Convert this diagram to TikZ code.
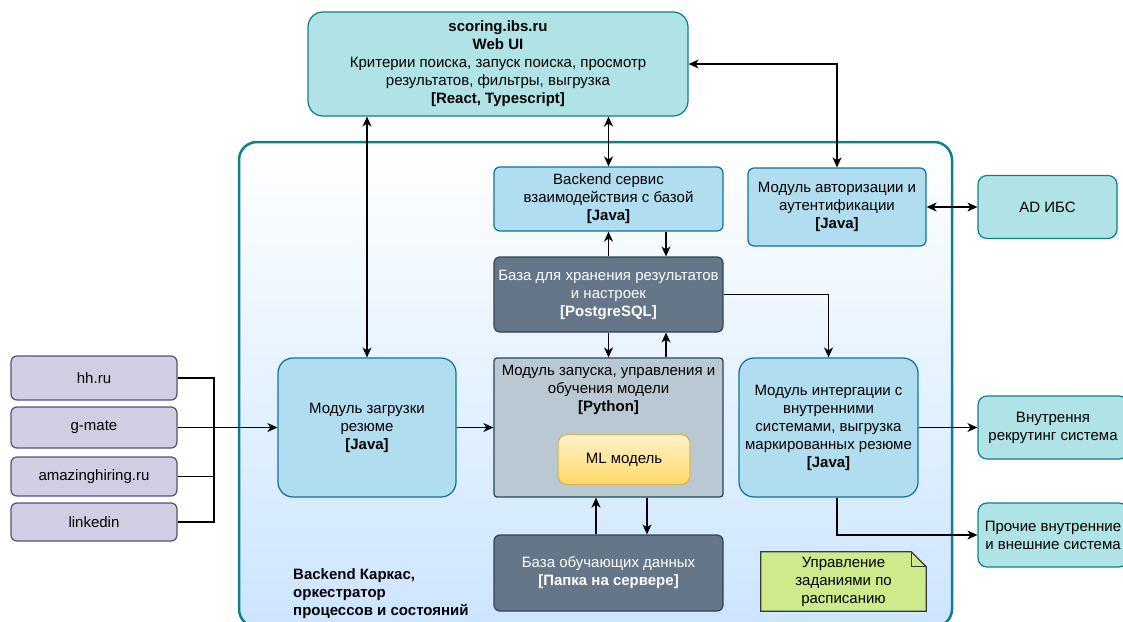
\documentclass[tikz,border=0pt]{standalone}
\usepackage{fontspec}
\setmainfont{Liberation Sans}
\usetikzlibrary{arrows.meta,positioning}
\definecolor{tealfill}{HTML}{B0E3E6}
\definecolor{tealline}{HTML}{0E8088}
\definecolor{bluefill}{HTML}{B1DDF0}
\definecolor{blueline}{HTML}{10739E}
\definecolor{darkfill}{HTML}{647687}
\definecolor{darkline}{HTML}{314354}
\definecolor{pyfill}{HTML}{BAC8D3}
\definecolor{pyline}{HTML}{23445D}
\definecolor{mltop}{HTML}{FFF2CC}
\definecolor{mlbottom}{HTML}{FFD966}
\definecolor{mlline}{HTML}{D6B656}
\definecolor{srcfill}{HTML}{D0CEE2}
\definecolor{srcline}{HTML}{56517E}
\definecolor{notefill}{HTML}{CDEB8B}
\definecolor{noteline}{HTML}{36393D}
\definecolor{corebottom}{HTML}{CCE5FF}
\tikzset{
  box/.style={draw, rounded corners=6pt, line width=1.25pt, align=center, inner sep=0pt},
  webbox/.style={box, fill=tealfill, draw=tealline, rounded corners=15pt},
  extbox/.style={box, fill=tealfill, draw=tealline, rounded corners=9pt},
  modbox/.style={box, fill=bluefill, draw=blueline},
  bigmod/.style={box, fill=bluefill, draw=blueline, rounded corners=15pt},
  dbbox/.style={box, fill=darkfill, draw=darkline, text=white},
  srcbox/.style={box, fill=srcfill, draw=srcline, minimum width=166pt},
  link/.style={line width=1.1pt, -{Stealth[length=10pt,width=9pt,inset=3pt]}},
  duplex/.style={line width=1.1pt, {Stealth[length=10pt,width=9pt,inset=3pt]}-{Stealth[length=10pt,width=9pt,inset=3pt]}},
  wire/.style={line width=1.1pt}
}
\begin{document}
\begin{tikzpicture}[x=1pt, y=-1pt, font=\fontsize{15}{18}\selectfont]
\useasboundingbox (0,0) rectangle (1123,621);
\node[draw=tealline, line width=2.5pt, rounded corners=18pt, top color=white, bottom color=corebottom,
  minimum width=713pt, minimum height=485pt, inner sep=0pt] (core) at (595.5,384.5) {};
\node[anchor=north west, align=left, font=\fontsize{15}{18}\selectfont\bfseries, inner sep=0pt] (corelabel) at (293,568)
  {Backend Каркас,\\оркестратор\\процессов и состояний};

\node[webbox, minimum width=380pt, minimum height=104pt] (webui) at (498,64)
  {\textbf{scoring.ibs.ru}\\\textbf{Web UI}\\Критерии поиска, запуск поиска, просмотр\\результатов, фильтры, выгрузка\\\textbf{[React, Typescript]}};
\node[modbox, minimum width=229pt, minimum height=64pt] (dbsvc) at (608.5,199)
  {Backend сервис\\взаимодействия с базой\\\textbf{[Java]}};
\node[modbox, minimum width=178pt, minimum height=78pt] (auth) at (837,207)
  {Модуль авторизации и\\аутентификации\\\textbf{[Java]}};
\node[extbox, minimum width=139pt, minimum height=63pt] (adibs) at (1047.5,207) {AD ИБС};
\node[dbbox, minimum width=229pt, minimum height=75pt] (pg) at (608.5,294.5)
  {База для хранения результатов\\и настроек\\\textbf{[PostgreSQL]}};
\node[bigmod, minimum width=178pt, minimum height=139pt] (loader) at (367,427.5)
  {Модуль загрузки\\резюме\\\textbf{[Java]}};
\node[box, fill=pyfill, draw=pyline, rounded corners=3pt, minimum width=229pt, minimum height=139pt] (pymod) at (608.5,427.5) {};
\node[below=8pt of pymod.north, align=center, inner sep=0pt] (pymodtxt)
  {Модуль запуска, управления и\\обучения модели\\\textbf{[Python]}};
\node[box, top color=mltop, bottom color=mlbottom, draw=mlline, rounded corners=9pt, minimum width=132pt, minimum height=50pt] (ml) at (624,459.5) {ML модель};
\node[bigmod, minimum width=179pt, minimum height=139pt] (integ) at (828.5,427.5)
  {Модуль интергации с\\внутренними\\системами, выгрузка\\маркированных резюме\\\textbf{[Java]}};
\node[dbbox, minimum width=229pt, minimum height=76pt] (train) at (608.5,573)
  {База обучающих данных\\\textbf{[Папка на сервере]}};
\node[inner sep=0pt, minimum width=165pt, minimum height=59pt] (note) at (843.5,581.5) {};
\draw[noteline, fill=notefill, line width=1.25pt] (note.north west) -- ([xshift=-15pt]note.north east) -- ([yshift=-15pt]note.north east) -- (note.south east) -- (note.south west) -- cycle;
\draw[noteline, line width=1.25pt] ([xshift=-15pt]note.north east) -- ([xshift=-15pt,yshift=-15pt]note.north east) -- ([yshift=-15pt]note.north east);
\node[align=center, inner sep=0pt] (notetxt) at (note) {Управление\\заданиями по\\расписанию};
\node[extbox, minimum width=150pt, minimum height=63pt] (recruit) at (1053,427.5)
  {Внутрення\\рекрутинг система};
\node[extbox, minimum width=150pt, minimum height=64pt] (other) at (1053,535)
  {Прочие внутренние\\и внешние система};

\node[srcbox, minimum height=44pt] (hh) at (94,378) {hh.ru};
\node[srcbox, minimum height=41pt] (gmate) at (94,427.5) {g-mate};
\node[srcbox, minimum height=39pt] (amazing) at (94,476.5) {amazinghiring.ru};
\node[srcbox, minimum height=38pt] (linkedin) at (94,522) {linkedin};
\coordinate (bus) at (214,427.5);

\draw[wire] (hh.east) -| (bus);
\draw[wire] (amazing.east) -| (bus);
\draw[wire] (linkedin.east) -| (bus);
\draw[link] (gmate.east) -- (loader.west);
\draw[duplex] (loader.north |- webui.south) -- (loader.north);
\draw[duplex] (dbsvc.north |- webui.south) -- (dbsvc.north);
\draw[duplex] (webui.east) -| (auth.north);
\draw[duplex] (auth.east) -- (adibs.west);
\draw[link] (pg.north) -- (dbsvc.south);
\draw[link] ([xshift=57.5pt]dbsvc.south) -- ([xshift=57.5pt]pg.north);
\draw[link] (pg.south) -- (pymod.north);
\draw[link] ([xshift=57.5pt]pymod.north) -- ([xshift=57.5pt]pg.south);
\draw[link] (pg.east) -| (integ.north);
\draw[link] (loader.east) -- (pymod.west);
\draw[link] (integ.east) -- (recruit.west);
\draw[link] ([xshift=8.5pt]integ.south) |- (other.west);
\draw[link] ([xshift=-12.5pt]train.north) -- ([xshift=-12.5pt]pymod.south);
\draw[link] ([xshift=38.5pt]pymod.south) -- ([xshift=38.5pt]train.north);
\end{tikzpicture}
\end{document}
